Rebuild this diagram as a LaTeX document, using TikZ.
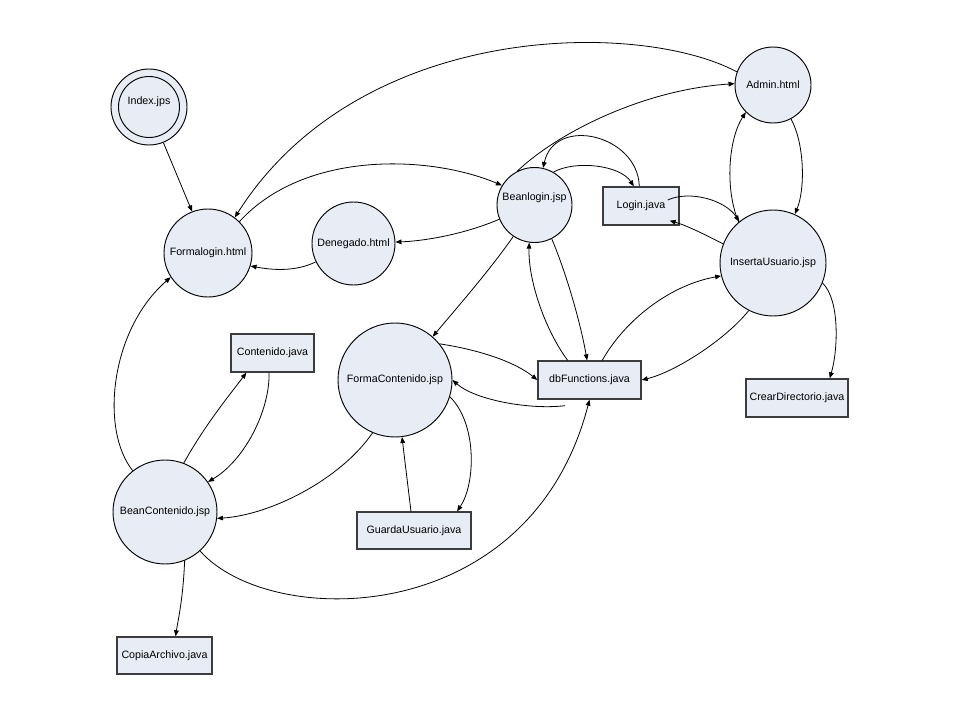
\documentclass[tikz,border=0pt]{standalone}
\usepackage{fontspec}
\setmainfont{Liberation Sans}
\usetikzlibrary{arrows.meta}
\definecolor{nodefill}{RGB}{232,236,245}
\definecolor{rectline}{RGB}{60,60,60}
\begin{document}
\begin{tikzpicture}[x=0.75pt,y=-0.75pt,
  font=\fontsize{8pt}{9.6pt}\selectfont,
  circ/.style={circle,draw=black,line width=0.7pt,fill=nodefill,inner sep=0pt},
  box/.style={rectangle,draw=rectline,line width=1pt,fill=nodefill,inner sep=0pt},
  conn/.style={line width=0.6pt,-{Triangle[length=4.5pt,width=3.5pt]}}]
\useasboundingbox (0,0) rectangle (960,720);
\fill[white] (0,0) rectangle (960,720);

% nodes
\node[circ,minimum size=57pt] (idx) at (149,107) {};
\node[circ,minimum size=45.75pt,label={[yshift=3.75pt]center:Index.jps}] (idxin) at (149,107) {};
\node[circ,minimum size=66pt] (fl) at (208,253) {Formalogin.html};
\node[circ,minimum size=62.25pt] (den) at (353.5,243.5) {Denegado.html};
\node[circ,minimum size=56.25pt,label={[yshift=5.25pt]center:Beanlogin.jsp}] (bl) at (534.5,205) {};
\node[box,minimum width=57pt,minimum height=28.5pt] (lj) at (641,206) {Login.java};
\node[circ,minimum size=57pt] (adm) at (773,85) {Admin.html};
\node[circ,minimum size=79.5pt] (ins) at (773,263) {InsertaUsuario.jsp};
\node[circ,minimum size=85.5pt] (fc) at (395,380) {FormaContenido.jsp};
\node[box,minimum width=77.25pt,minimum height=28.5pt] (db) at (589.5,380) {dbFunctions.java};
\node[box,minimum width=85.5pt,minimum height=27.75pt] (gu) at (414,530.5) {GuardaUsuario.java};
\node[box,minimum width=62.25pt,minimum height=28.5pt] (cj) at (272.5,353) {Contenido.java};
\node[circ,minimum size=78pt] (bc) at (165,512) {BeanContenido.jsp};
\node[box,minimum width=71.25pt,minimum height=27.75pt] (ca) at (164.5,655.5) {CopiaArchivo.java};
\node[box,minimum width=76.5pt,minimum height=28.5pt] (cd) at (797,398) {CrearDirectorio.java};

% connectors
\draw[conn] (idx.-68.7) -- (fl.111.3);
\draw[conn] (adm.160.1) .. controls (640,20) and (360,20) .. (fl.53.4);
\draw[conn] (fl.45) .. controls (305,150) and (430,155) .. (bl.149.7);
\draw[conn] (bl.202.3) .. controls (465,234) and (425,241) .. (den.2);
\draw[conn] (den.206.9) .. controls (295,272) and (272,270) .. (fl.-17.7);
\draw[conn] (bl.117.3) .. controls (555,135) and (640,90) .. (adm.178.5);
\draw[conn] (lj.95.7) .. controls (638,135) and (555,115) .. (bl.77);
\draw[conn] (bl.60.2) .. controls (575,160) and (620,165) .. (lj.110.2);
\draw[conn] ([shift={(-9pt,4.5pt)}]lj.east) .. controls (690,190) and (725,200) .. (ins.129);
\draw[conn] (ins.159.3) .. controls (700,232) and (685,225) .. ([shift={(-7.5pt,3.75pt)}]lj.south east);
\draw[conn] (ins.130.6) .. controls (725,190) and (728,140) .. (adm.225);
\draw[conn] (adm.-62.8) .. controls (805,145) and (805,190) .. (ins.66.25);
\draw[conn] (ins.-22.8) .. controls (840,300) and (838,350) .. (cd.31.5);
\draw[conn] (ins.-117.6) .. controls (725,340) and (675,372) .. (db.east);
\draw[conn] (db.57.4) .. controls (625,320) and (670,285) .. (ins.194);
\draw[conn] (bl.-63.4) .. controls (565,270) and (580,320) .. (db.97);
\draw[conn] (db.138.5) .. controls (545,330) and (528,280) .. (bl.-98.2);
\draw[conn] (bl.-124.3) .. controls (490,270) and (455,310) .. (fc.49.1);
\draw[conn] (fc.39.4) .. controls (480,350) and (515,362) .. (db.west);
\draw[conn] ([shift={(-18.4pt,-4.5pt)}]db.south) .. controls (530,410) and (475,400) .. (fc.east);
\draw[conn] (fc.-17.2) .. controls (478,425) and (475,485) .. (gu.24.3);
\draw[conn] (gu.99.2) -- (fc.-83);
\draw[conn] (bc.-48.4) .. controls (270,630) and (530,630) .. (db.south);
\draw[conn] (fc.-113.5) .. controls (340,480) and (270,515) .. (bc.-7.8);
\draw[conn] (bc.69.4) .. controls (205,425) and (228,397) .. (cj.-143.3);
\draw[conn] (cj.-100.4) .. controls (270,410) and (245,460) .. (bc.35.5);
\draw[conn] (bc.128.8) .. controls (100,430) and (110,330) .. (fl.-147);
\draw[conn] (bc.-68.6) .. controls (183,600) and (178,620) .. (ca.60.4);
\end{tikzpicture}
\end{document}
